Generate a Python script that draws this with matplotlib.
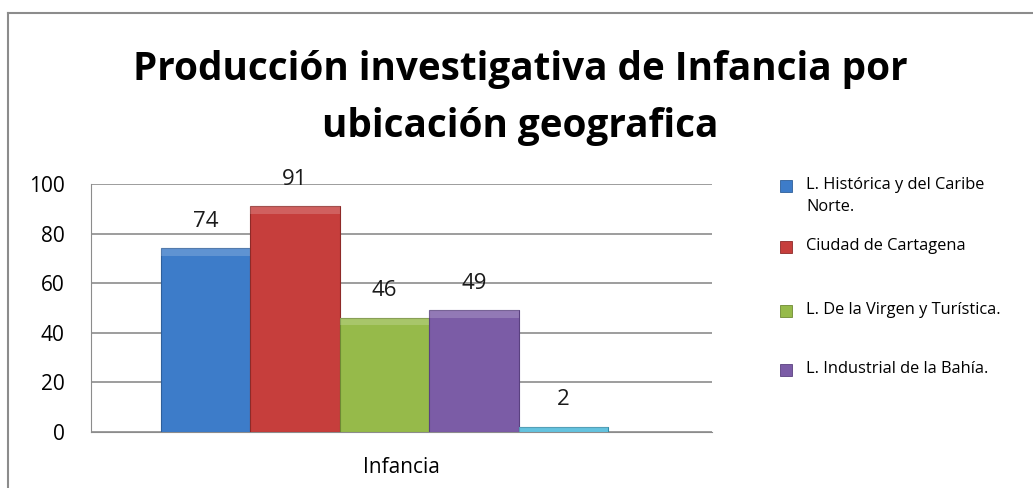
import matplotlib.pyplot as plt
from matplotlib.patches import Rectangle
from matplotlib.lines import Line2D

# datos
categoria = "Infancia"
series = ["L. Histórica y del Caribe\nNorte.", "Ciudad de Cartagena",
          "L. De la Virgen y Turística.", "L. Industrial de la Bahía.", ""]
valores = [74, 91, 46, 49, 2]
colores = ["#3D7CC9", "#C63E3C", "#96BA4A", "#7B5CA6", "#43B6D8"]
bordes = ["#2F5F9A", "#8E2A28", "#6E8A33", "#5A4180", "#2F8CA8"]
titulo = ["Producción investigativa de Infancia por", "ubicación geografica"]

fig = plt.figure(figsize=(10.33, 4.88), dpi=100)

# marco del grafico
fig.add_artist(Line2D([8/1033, 8/1033], [0, 1 - 13/488], color="#8c8c8c", lw=1.5))
fig.add_artist(Line2D([8/1033, 1], [1 - 13/488, 1 - 13/488], color="#8c8c8c", lw=1.5))

ax = fig.add_axes([91/1033, 1 - 432/488, 621/1033, 248/488])
for i, v in enumerate(valores):
    ax.bar(i, v, width=1.0, color=colores[i], edgecolor=bordes[i], linewidth=0.8, zorder=3)
    # brillo superior tipo bisel
    ax.add_patch(Rectangle((i - 0.5, v - min(v, 3.0)), 1.0, min(v, 3.0),
                           facecolor="white", alpha=0.18, lw=0, zorder=4))
    ax.text(i, v + 11, str(v), ha="center", va="center", fontsize=16,
            family="Open Sans", color="#1a1a1a")

ax.set_ylim(0, 100)
ax.set_xlim(-1.28, 5.66)
ax.set_yticks([0, 20, 40, 60, 80, 100])
ax.set_yticklabels(["0", "20", "40", "60", "80", "100"], fontsize=15, family="Open Sans")
ax.set_xticks([])
ax.tick_params(axis="y", length=0, pad=19)
ax.grid(axis="y", color="#8c8c8c", lw=1.2, zorder=0)
for s in ["top", "right"]:
    ax.spines[s].set_visible(False)
ax.spines["left"].set_color("#8c8c8c")
ax.spines["bottom"].set_color("#8c8c8c")
ax.text(0.5, -0.145, categoria, transform=ax.transAxes, ha="center", va="center",
        fontsize=15, family="Open Sans")

fig.text(520/1033, 1 - 80/488, titulo[0], ha="center", va="baseline", fontsize=27.8,
         fontweight="bold", family="Open Sans")
fig.text(520/1033, 1 - 137/488, titulo[1], ha="center", va="baseline", fontsize=27.8,
         fontweight="bold", family="Open Sans")

# leyenda
ley_y = [186, 247, 311, 370]
for i in range(4):
    yc = 1 - ley_y[i]/488
    fig.add_artist(Rectangle((780/1033, yc - 6/488), 12/1033, 12/488,
                             facecolor=colores[i], edgecolor=bordes[i], lw=0.6,
                             transform=fig.transFigure))
    fig.text(806/1033, yc + 9/488, series[i], ha="left", va="top", fontsize=11.8,
             family="Open Sans", linespacing=1.5)

fig.savefig("out.png", dpi=100)
